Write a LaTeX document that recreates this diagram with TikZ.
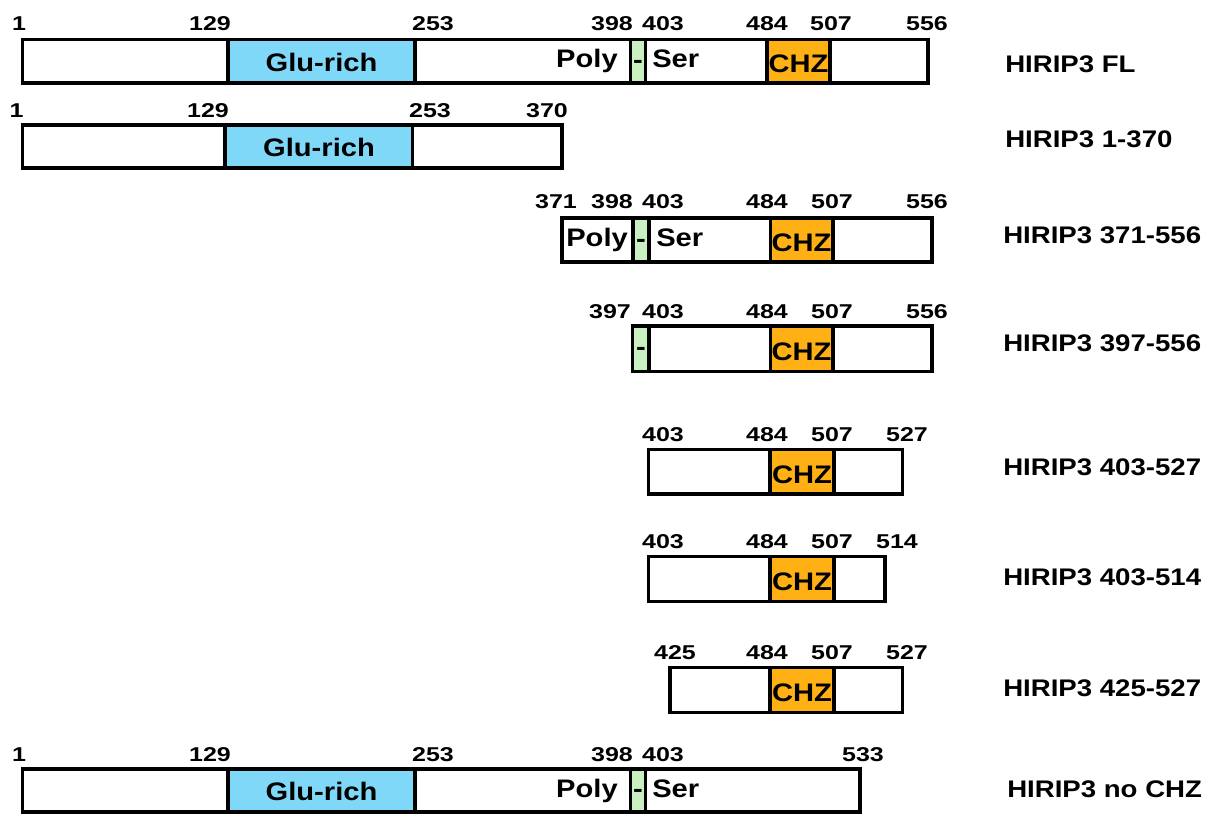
\documentclass[tikz,border=0pt]{standalone}
\usepackage{fontspec}
\usepackage{xcolor}
\usepackage{tikz}
\usetikzlibrary{positioning}
\setmainfont{Liberation Sans}
\newfontfamily\boxfont[FakeStretch=1.15]{Liberation Sans}
\newfontfamily\numfont[FakeStretch=1.25]{Liberation Sans}
\definecolor{glublue}{RGB}{128,216,248}
\definecolor{chzorange}{RGB}{255,176,20}
\definecolor{linkgreen}{RGB}{200,240,192}

\begin{document}
\begin{tikzpicture}[x=0.75pt, y=-0.75pt,
  bar/.style={draw=black, line width=2.3pt, fill=white},
  seg/.style={draw=black, line width=2.3pt},
  num/.style={inner sep=0pt, anchor=base, font=\numfont\bfseries\fontsize{15}{16}\selectfont},
  dom/.style={inner sep=0pt, anchor=base, font=\boxfont\bfseries\fontsize{19}{20}\selectfont},
  construct/.style={inner sep=0pt, anchor=base west, font=\boxfont\bfseries\fontsize{18}{20}\selectfont}]
\useasboundingbox (0,0) rectangle (1215,814);

% HIRIP3 FL
\filldraw[bar] (22.5,39.5) rectangle (928,83);
\filldraw[seg, fill=glublue] (228,39.5) rectangle (415,83);
\filldraw[seg, fill=linkgreen] (630.5,39.5) rectangle (645.5,83);
\filldraw[seg, fill=chzorange] (767,39.5) rectangle (830,83);
\node[dom] (fl_glu) at (321.5,71) {Glu-rich};
\node[dom, anchor=base east] (fl_poly) at (618,67.5) {Poly};
\node[dom] (fl_link) at (638,68) {-};
\node[dom, anchor=base west] (fl_ser) at (652,67.5) {Ser};
\node[dom] (fl_chz) at (798.5,72.5) {CHZ};
\node[num] (fl_n1) at (19,30) {1};
\node[num] (fl_n129) at (210,30) {129};
\node[num] (fl_n253) at (433,30) {253};
\node[num] (fl_n398) at (612,30) {398};
\node[num] (fl_n403) at (663,30) {403};
\node[num] (fl_n484) at (767,30) {484};
\node[num] (fl_n507) at (831,30) {507};
\node[num] (fl_n556) at (927,30) {556};
\node[construct] (fl_name) at (1005,72) {HIRIP3 FL};

% HIRIP3 1-370
\filldraw[bar] (22.5,125) rectangle (562,168);
\filldraw[seg, fill=glublue] (225,125) rectangle (412.5,168);
\node[dom] (n370_glu) at (319,156) {Glu-rich};
\node[num] (n370_n1) at (16.5,117) {1};
\node[num] (n370_n129) at (208,117) {129};
\node[num] (n370_n253) at (430,117) {253};
\node[num] (n370_n370) at (547,117) {370};
\node[construct] (n370_name) at (1005,147) {HIRIP3 1-370};

% HIRIP3 371-556
\filldraw[bar] (562,218) rectangle (932,262);
\filldraw[seg, fill=linkgreen] (633,218) rectangle (649,262);
\filldraw[seg, fill=chzorange] (770.5,218) rectangle (833,262);
\node[dom, anchor=base west] (n371_poly) at (566,246.5) {Poly};
\node[dom] (n371_link) at (641,247) {-};
\node[dom, anchor=base west] (n371_ser) at (656,246.5) {Ser};
\node[dom] (n371_chz) at (801.5,251.5) {CHZ};
\node[num] (n371_n371) at (556,208) {371};
\node[num] (n371_n398) at (612,208) {398};
\node[num] (n371_n403) at (663,208) {403};
\node[num] (n371_n484) at (767,208) {484};
\node[num] (n371_n507) at (832,208) {507};
\node[num] (n371_n556) at (927,208) {556};
\node[construct] (n371_name) at (1003,243) {HIRIP3 371-556};

% HIRIP3 397-556
\filldraw[bar] (632.5,326) rectangle (932,371.5);
\filldraw[seg, fill=linkgreen] (632.5,326) rectangle (649,371.5);
\filldraw[seg, fill=chzorange] (770.5,326) rectangle (833,371.5);
\node[dom] (n397_link) at (641,355.5) {-};
\node[dom] (n397_chz) at (801.5,360) {CHZ};
\node[num] (n397_n397) at (610,318) {397};
\node[num] (n397_n403) at (663,318) {403};
\node[num] (n397_n484) at (767,318) {484};
\node[num] (n397_n507) at (832,318) {507};
\node[num] (n397_n556) at (927,318) {556};
\node[construct] (n397_name) at (1003,351) {HIRIP3 397-556};

% HIRIP3 403-527
\filldraw[bar] (648.5,449.5) rectangle (902.5,494);
\filldraw[seg, fill=chzorange] (770,449.5) rectangle (834,494);
\node[dom] (n403a_chz) at (802,483.5) {CHZ};
\node[num] (n403a_n403) at (663,441.5) {403};
\node[num] (n403a_n484) at (767,441.5) {484};
\node[num] (n403a_n507) at (832,441.5) {507};
\node[num] (n403a_n527) at (907,441.5) {527};
\node[construct] (n403a_name) at (1003,475) {HIRIP3 403-527};

% HIRIP3 403-514
\filldraw[bar] (648.5,556.5) rectangle (885,601.5);
\filldraw[seg, fill=chzorange] (770,556.5) rectangle (834,601.5);
\node[dom] (n403b_chz) at (802,590.5) {CHZ};
\node[num] (n403b_n403) at (663,548) {403};
\node[num] (n403b_n484) at (767,548) {484};
\node[num] (n403b_n507) at (832,548) {507};
\node[num] (n403b_n514) at (897,548) {514};
\node[construct] (n403b_name) at (1003,585) {HIRIP3 403-514};

% HIRIP3 425-527
\filldraw[bar] (670,667.5) rectangle (902.5,712.5);
\filldraw[seg, fill=chzorange] (770,667.5) rectangle (834,712.5);
\node[dom] (n425_chz) at (802,701.5) {CHZ};
\node[num] (n425_n425) at (675,659) {425};
\node[num] (n425_n484) at (767,659) {484};
\node[num] (n425_n507) at (832,659) {507};
\node[num] (n425_n527) at (907,659) {527};
\node[construct] (n425_name) at (1003,696) {HIRIP3 425-527};

% HIRIP3 no CHZ
\filldraw[bar] (22.5,769) rectangle (860,812);
\filldraw[seg, fill=glublue] (228,769) rectangle (415,812);
\filldraw[seg, fill=linkgreen] (630.5,769) rectangle (645.5,812);
\node[dom] (nochz_glu) at (321.5,800) {Glu-rich};
\node[dom, anchor=base east] (nochz_poly) at (618,797) {Poly};
\node[dom] (nochz_link) at (638,797.5) {-};
\node[dom, anchor=base west] (nochz_ser) at (652,797) {Ser};
\node[num] (nochz_n1) at (19,761) {1};
\node[num] (nochz_n129) at (210,761) {129};
\node[num] (nochz_n253) at (433,761) {253};
\node[num] (nochz_n398) at (612,761) {398};
\node[num] (nochz_n403) at (663,761) {403};
\node[num] (nochz_n533) at (863,761) {533};
\node[construct] (nochz_name) at (1007,797) {HIRIP3 no CHZ};

\end{tikzpicture}
\end{document}
